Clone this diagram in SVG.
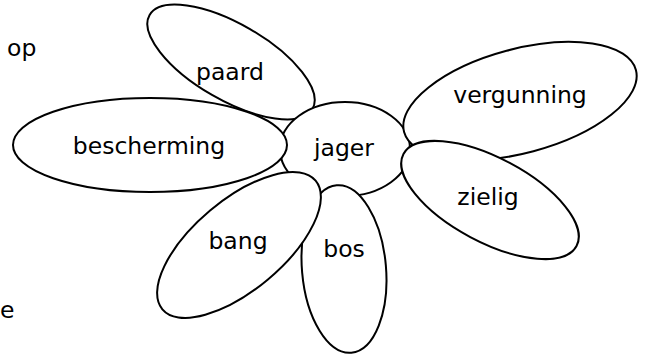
<svg xmlns="http://www.w3.org/2000/svg" width="645" height="356" viewBox="0 0 645 356">
<style>
.n ellipse{fill:#fff;stroke:#000;stroke-width:2}
text{font-family:"DejaVu Sans",Verdana,sans-serif;font-size:23.5px;fill:#000;text-anchor:middle}
.free{text-anchor:start}
</style>
<rect width="645" height="356" fill="#fff"/>
<text class="free" x="7" y="56">op</text>
<text class="free" x="0" y="318">e</text>
<g id="paard" class="n"><ellipse cx="231" cy="62" rx="94" ry="38" transform="rotate(30 231 62)"/><text x="230" y="80">paard</text></g>
<g id="jager" class="n"><ellipse cx="345" cy="149" rx="65" ry="47"/><text x="344" y="156">jager</text></g>
<g id="bescherming" class="n"><ellipse cx="150" cy="145" rx="137" ry="47"/><text x="149" y="154">bescherming</text></g>
<g id="vergunning" class="n"><ellipse cx="520" cy="101" rx="120" ry="52" transform="rotate(-15 520 101)"/><text x="520" y="103">vergunning</text></g>
<g id="zielig" class="n"><ellipse cx="490" cy="200" rx="98" ry="42" transform="rotate(28 490 200)"/><text x="488" y="205">zielig</text></g>
<g id="bos" class="n"><ellipse cx="344" cy="269" rx="42" ry="84" transform="rotate(-5 344 269)"/><text x="344" y="257">bos</text></g>
<g id="bang" class="n"><ellipse cx="239" cy="245" rx="100" ry="45" transform="rotate(-40 239 245)"/><text x="238" y="249">bang</text></g>
<g id="connectors"/>
</svg>
